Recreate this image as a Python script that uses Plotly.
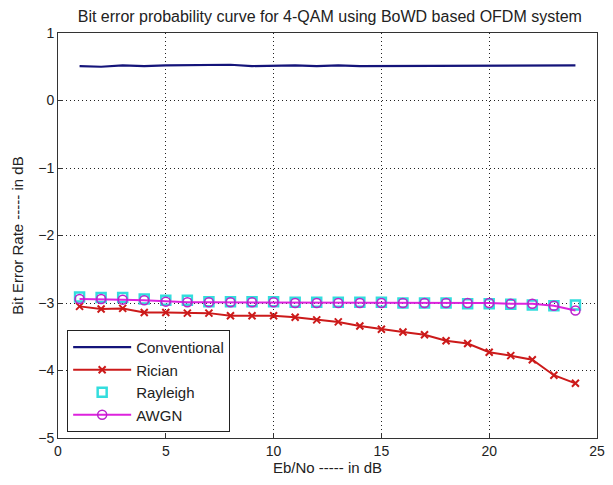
import plotly.graph_objects as go

snr_db = list(range(1, 25))
conventional = [0.51, 0.50, 0.52, 0.51, 0.52, 0.52, 0.52, 0.53, 0.51, 0.52, 0.52, 0.51,
                0.52, 0.51, 0.51, 0.51, 0.51, 0.52, 0.52, 0.51, 0.52, 0.52, 0.52, 0.52]
rician = [-3.05, -3.09, -3.08, -3.14, -3.14, -3.15, -3.15, -3.19, -3.19, -3.19, -3.21, -3.25,
          -3.28, -3.34, -3.39, -3.43, -3.47, -3.56, -3.60, -3.73, -3.78, -3.84, -4.07, -4.19]
rayleigh = [-2.91, -2.92, -2.92, -2.94, -2.96, -2.96, -2.98, -2.98, -2.98, -2.98, -2.99, -2.99,
            -2.99, -2.99, -2.99, -3.00, -3.00, -3.00, -3.01, -3.01, -3.02, -3.03, -3.04, -3.03]
awgn = [-2.94, -2.94, -2.95, -2.96, -2.98, -2.99, -2.99, -2.99, -2.99, -2.99, -3.00, -3.00,
        -3.00, -3.00, -3.00, -3.00, -3.00, -3.00, -3.00, -3.00, -3.01, -3.01, -3.04, -3.11]

FONT = "Liberation Sans, Arial"

fig = go.Figure()
fig.add_trace(go.Scatter(x=snr_db, y=conventional, mode="lines", name="Conventional",
                         line=dict(color="#14147a", width=2.2)))
fig.add_trace(go.Scatter(x=snr_db, y=rician, mode="lines+markers", name="Rician",
                         line=dict(color="#cc1a1a", width=2),
                         marker=dict(symbol="x-thin", size=7, line=dict(color="#cc1a1a", width=2))))
fig.add_trace(go.Scatter(x=snr_db, y=rayleigh, mode="markers", name="Rayleigh",
                         marker=dict(symbol="square-open", size=9, color="#33dddd",
                                     line=dict(color="#33dddd", width=2.5))))
fig.add_trace(go.Scatter(x=snr_db, y=awgn, mode="lines+markers", name="AWGN",
                         line=dict(color="#dd22dd", width=2),
                         marker=dict(symbol="circle-open", size=9, color="#bb22cc",
                                     line=dict(color="#bb22cc", width=1.5))))

axis_common = dict(showline=True, linecolor="#333333", linewidth=1, mirror=True,
                   ticks="inside", ticklen=5, tickcolor="#333333",
                   showgrid=True, gridcolor="#222222", griddash="1px,3px", gridwidth=1,
                   zeroline=False, automargin=False, ticklabeloverflow="allow",
                   tickfont=dict(family=FONT, size=14, color="#222222"))

fig.update_layout(
    width=597, height=469,
    paper_bgcolor="white", plot_bgcolor="white",
    margin=dict(l=50, r=8, t=25, b=39),
    title=dict(text="Bit error probability curve for 4-QAM using BoWD based OFDM system",
               x=0.539, xanchor="center", y=0.995, yanchor="top",
               font=dict(family=FONT, size=16, color="#222222")),
    xaxis=dict(range=[0, 25], tickvals=[0, 5, 10, 15, 20, 25],
               title=dict(text="Eb/No ----- in dB", standoff=4,
                          font=dict(family=FONT, size=15, color="#222222")),
               **axis_common),
    yaxis=dict(range=[-5, 1], tickvals=[-5, -4, -3, -2, -1, 0, 1],
               title=dict(text="Bit Error Rate ----- in dB", standoff=10,
                          font=dict(family=FONT, size=15, color="#222222")),
               **axis_common),
    legend=dict(x=0.017, y=0.015, xanchor="left", yanchor="bottom",
                bgcolor="white", bordercolor="#222222", borderwidth=1,
                font=dict(family=FONT, size=15, color="#222222"),
                tracegroupgap=0, itemwidth=58),
    showlegend=True,
)

fig.write_html("out.html")
